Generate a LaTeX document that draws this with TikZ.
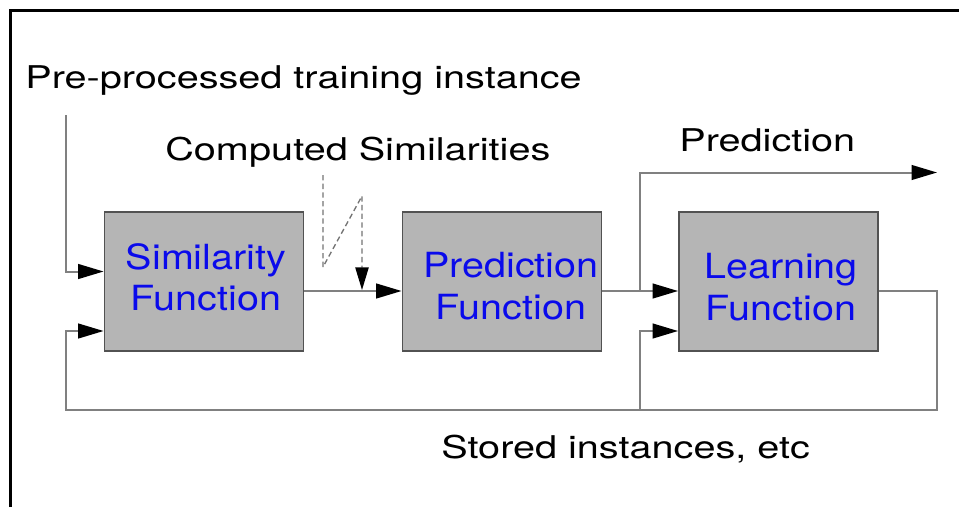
\documentclass[tikz,border=0pt]{standalone}
\usepackage{fontspec}
\setmainfont{TeX Gyre Heros}
\usetikzlibrary{arrows.meta,calc}
\begin{document}
\begin{tikzpicture}[x=0.75pt,y=-0.75pt,
  fbox/.style={draw=black!68, line width=1.4pt, fill=black!29,
    minimum width=149.25pt, minimum height=104.25pt, inner sep=0pt},
  wire/.style={draw=black!50, line width=1.5pt},
  tip/.style={-{Triangle[length=19pt,width=11pt,color=black]}},
  dtip/.style={-{Triangle[length=17pt,width=10pt,color=black]}},
  lbl/.style={font=\fontsize{23.5}{28}\selectfont, xscale=1.265,
    inner sep=0pt, anchor=base west},
  blbl/.style={font=\fontsize{26}{31}\selectfont, text={rgb,255:red,10;green,10;blue,235},
    align=center, xscale=1.14, inner sep=0pt}
]
\useasboundingbox (0,0) rectangle (959,507);

% frame edges
\draw[line width=2.6pt] (10.5,507) -- (10.5,10.5) -- (959,10.5);

% function blocks
\node[fbox] (b1) at (204,281.5) {};
\node[fbox] (b2) at (502,281.5) {};
\node[fbox] (b3) at (778.5,281.5) {};
\node[blbl] (t1) at (206,277) {Similarity\\Function};
\node[blbl] (t2) at (511,286) {Prediction\\Function};
\node[blbl] (t3) at (781,287) {Learning\\Function};

% free labels
\node[lbl] (l1) at (25,88) {Pre-processed training instance};
\node[lbl] (l2) at (165,160) {Computed Similarities};
\node[lbl] (l3) at (679,151) {Prediction};
\node[lbl] (l4) at (441,458) {Stored instances, etc};

% connector end points
\coordinate (in0) at (66,115);
\coordinate (retL) at (66,410);
\coordinate (retR) at (937,410);
\coordinate (tap) at (640,410);
\coordinate (jn) at (640,291);
\coordinate (predEnd) at (937,172.5);
\coordinate (d0) at (323,175);
\coordinate (d1) at (323,267);
\coordinate (d2) at (362,196);
\coordinate (d3) at (362,290);

% connectors
\draw[wire,tip] (in0) |- ($(b1.west)+(0,-10)$);
\draw[wire,tip] ($(b1.east)+(0,9.5)$) -- ($(b2.west)+(0,9.5)$);
\draw[wire,tip] ($(b2.east)+(0,9.5)$) -- ($(b3.west)+(0,9.5)$);
\draw[wire,tip] (jn) |- (predEnd);
\draw[wire,tip] ($(b3.east)+(0,9.5)$) -| (retR) -- (retL) |- ($(b1.west)+(0,49.5)$);
\draw[wire,tip] (tap) |- ($(b3.west)+(0,49.5)$);

% computed similarities (dashed)
\draw[draw=black!55, line width=1pt, dash pattern=on 4pt off 2.5pt, dtip]
  (d0) -- (d1) -- (d2) -- (d3);
\end{tikzpicture}
\end{document}
